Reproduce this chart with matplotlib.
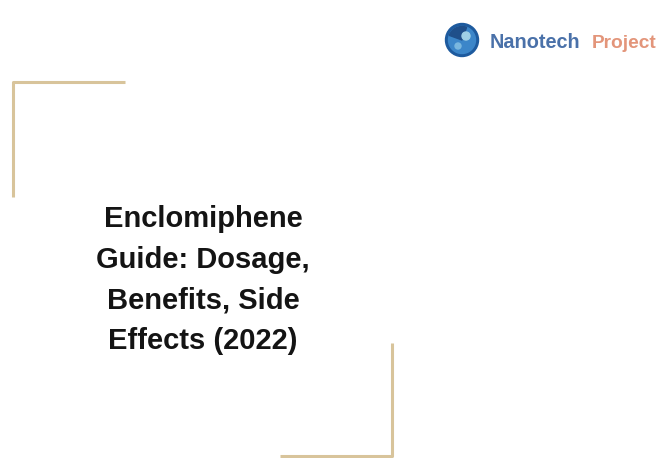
import matplotlib
matplotlib.use("Agg")
import matplotlib.pyplot as plt
from matplotlib.patches import Circle, Wedge

title_lines = ["Enclomiphene", "Guide: Dosage,", "Benefits, Side", "Effects (2022)"]
brand_words = ["Nanotech", "Project"]

fig = plt.figure(figsize=(6.6, 4.58), dpi=100)
ax = fig.add_axes([0, 0, 1, 1])
ax.set_xlim(0, 660)
ax.set_ylim(458, 0)
ax.axis("off")

gold = "#d8c49b"
# top-left bracket
ax.plot([13, 13, 125], [197, 82, 82], color=gold, lw=2.2, solid_capstyle="butt")
# bottom-right bracket
ax.plot([280, 392, 392], [456, 456, 343], color=gold, lw=2.2, solid_capstyle="butt")

# title
y0, dy = 219, 40.7
for i, line in enumerate(title_lines):
    ax.text(203, y0 + i * dy, line, ha="center", va="center",
            fontsize=21, fontweight="bold", family="Liberation Sans", color="#141414")

# logo
ax.add_patch(Circle((462, 40), 16.5, color="#1d5a9e"))
ax.add_patch(Circle((462, 40), 13.5, color="#3c86c9"))
ax.add_patch(Wedge((462, 40), 13.5, 200, 290, color="#1f4f8a"))
ax.add_patch(Circle((466, 36), 4, color="#9fd0e6"))
ax.add_patch(Circle((458, 46), 3, color="#7ab7df"))
ax.text(490, 47.5, brand_words[0], ha="left", va="baseline", fontsize=14.3,
        fontweight="bold", family="Liberation Sans", color="#4a71a9")
ax.text(592, 47.5, brand_words[1], ha="left", va="baseline", fontsize=13.8,
        fontweight="bold", family="Liberation Sans", color="#e3957a")

fig.savefig("out.png", dpi=100, facecolor="white")
